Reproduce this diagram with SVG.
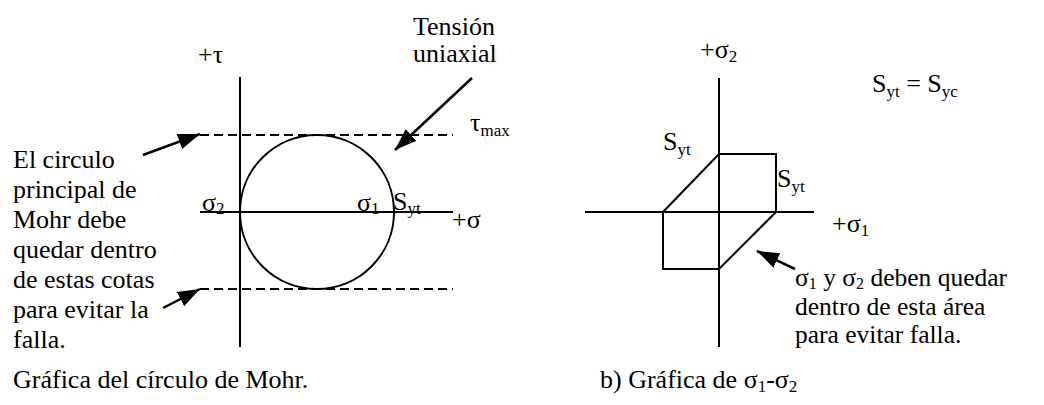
<svg xmlns="http://www.w3.org/2000/svg" width="1044" height="405" viewBox="0 0 1044 405" font-family="'Liberation Serif', 'Times New Roman', 'DejaVu Serif', serif">
<style>
text{font-family:'Liberation Serif','Times New Roman','DejaVu Serif',serif;font-size:26px;fill:#000}
.sub{font-size:17px}
.rt{font-size:25.5px}
.rsub{font-size:16px}
.ax{stroke:#000;stroke-width:2;fill:none}
.dash{stroke:#000;stroke-width:2;fill:none;stroke-dasharray:9,5}
.arr{stroke:#000;stroke-width:2.5;fill:none;marker-end:url(#ah)}
</style>
<defs>
<marker id="ah" markerUnits="userSpaceOnUse" markerWidth="24" markerHeight="18" refX="22" refY="8" orient="auto" viewBox="0 0 24 16">
<path d="M0,0 L22,8 L0,16 Z" fill="#000"/>
</marker>
</defs>
<rect width="1044" height="405" fill="#fff"/>

<g id="mohr">
<line class="ax" x1="240" y1="77" x2="240" y2="347"/>
<line class="ax" x1="200" y1="212" x2="453" y2="212"/>
<line class="dash" x1="200" y1="135" x2="453" y2="135"/>
<line class="dash" x1="200" y1="289" x2="453" y2="289"/>
<circle class="ax" cx="317" cy="212" r="77"/>
<text x="198" y="63">+τ</text>
<text x="470" y="131">τ<tspan class="sub" dy="5">max</tspan></text>
<text x="202" y="211">σ<tspan class="sub" dy="3">2</tspan></text>
<text x="357" y="211">σ<tspan class="sub" dy="3">1</tspan></text>
<text x="393" y="210">S<tspan class="sub" dy="4">yt</tspan></text>
<text x="452" y="228">+σ</text>
</g>

<g id="mohr-notes">
<text x="413" y="35">Tensión</text>
<text x="413" y="62">uniaxial</text>
<text x="13" y="168">El circulo</text>
<text x="13" y="198">principal de</text>
<text x="13" y="228">Mohr debe</text>
<text x="13" y="258">quedar dentro</text>
<text x="13" y="288">de estas cotas</text>
<text x="13" y="318">para evitar la</text>
<text x="13" y="348">falla.</text>
<text x="13" y="388">Gráfica del círculo de Mohr.</text>
</g>

<g id="sigma-plot">
<line class="ax" x1="719" y1="78" x2="719" y2="347"/>
<line class="ax" x1="585" y1="212" x2="814" y2="212"/>
<polygon class="ax" stroke-width="2.5" points="719,154 776,154 776,212 719,269 663,269 663,212"/>
<text x="700" y="58">+σ<tspan class="sub" dy="4">2</tspan></text>
<text x="663" y="150">S<tspan class="sub" dy="5">yt</tspan></text>
<text x="777" y="187">S<tspan class="sub" dy="5">yt</tspan></text>
<text x="872" y="92">S<tspan class="sub" dy="5">yt</tspan><tspan dy="-5"> = S</tspan><tspan class="sub" dy="5">yc</tspan></text>
<text x="832" y="232">+σ<tspan class="sub" dy="4">1</tspan></text>
</g>

<g id="sigma-notes">
<text class="rt" x="795" y="286">σ<tspan class="rsub" dy="3">1</tspan><tspan dy="-3"> y σ</tspan><tspan class="rsub" dy="3">2</tspan><tspan dy="-3"> deben quedar</tspan></text>
<text class="rt" x="795" y="315">dentro de esta área</text>
<text class="rt" x="795" y="343">para evitar falla.</text>
<text x="600" y="388">b) Gráfica de σ<tspan class="sub" dy="4">1</tspan><tspan dy="-4">-σ</tspan><tspan class="sub" dy="4">2</tspan></text>
</g>

<g id="connectors">
<line class="arr" x1="143" y1="155" x2="200" y2="134"/>
<line class="arr" x1="163" y1="308" x2="200" y2="289"/>
<line class="arr" x1="472" y1="78" x2="395" y2="150"/>
<line class="arr" x1="795" y1="269" x2="757" y2="251"/>
</g>
</svg>
